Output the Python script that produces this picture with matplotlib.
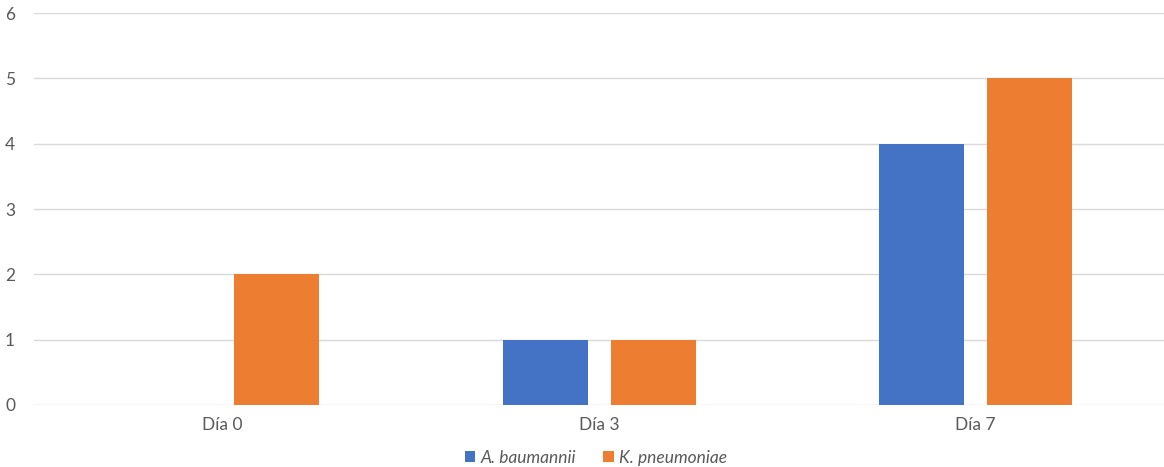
import matplotlib.pyplot as plt
import numpy as np

# grupos y valores
dias = ['Día 0', 'Día 3', 'Día 7']
a_baumannii = [0, 1, 4]
k_pneumoniae = [2, 1, 5]

azul = '#4472C4'
naranja = '#ED7D31'
gris = '#595959'

plt.rcParams['font.family'] = ['Lato', 'DejaVu Sans']

fig = plt.figure(figsize=(11.64, 4.67), dpi=100)
ax = fig.add_axes([0.0296, 0.1328, 0.9704, 0.8392])

x = np.arange(len(dias))
ancho = 0.226
sep = 0.143
ax.bar(x - sep, a_baumannii, ancho, color=azul, label='A. baumannii', zorder=3)
ax.bar(x + sep, k_pneumoniae, ancho, color=naranja, label='K. pneumoniae', zorder=3)

ax.set_xlim(-0.5, 2.5)
ax.set_ylim(0, 6)
ax.set_yticks(range(7))
ax.set_xticks(x)
ax.set_xticklabels(dias)
ax.grid(axis='y', color='#D9D9D9', linewidth=1, zorder=0)
for s in ax.spines.values():
    s.set_visible(False)
ax.tick_params(length=0, labelsize=12.5, colors=gris, pad=9)
ax.tick_params(axis='y', pad=14)

leg = ax.legend(loc='upper center', bbox_to_anchor=(0.497, -0.075), ncol=2,
                frameon=False, fontsize=12.5, handlelength=0.6, handleheight=0.6,
                handletextpad=0.3, columnspacing=1.6)
for t in leg.get_texts():
    t.set_color(gris)
    t.set_style('italic')

fig.savefig('out.png', dpi=100)
